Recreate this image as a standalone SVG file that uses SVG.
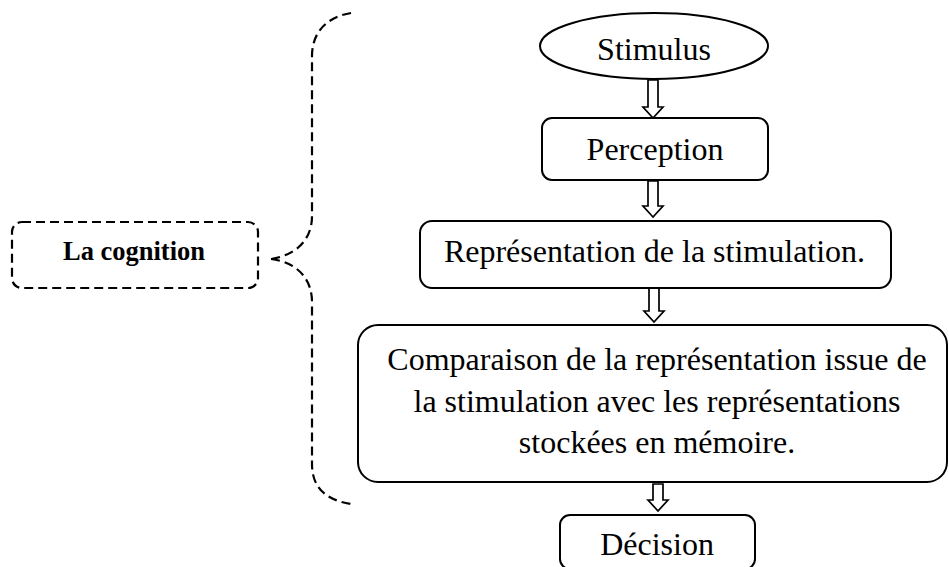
<svg xmlns="http://www.w3.org/2000/svg" width="949" height="567" viewBox="0 0 949 567">
  <style>
    .box { fill: #fff; stroke: #000; stroke-width: 2; }
    .dash { fill: none; stroke: #000; stroke-width: 2.2; stroke-dasharray: 9 5; }
    .arrow { fill: #fff; stroke: #000; stroke-width: 1.7; stroke-linejoin: miter; }
    .t { font-family: "Liberation Serif", "Times New Roman", serif; font-size: 32px; fill: #000; text-anchor: middle; }
    .tb { font-family: "Liberation Serif", "Times New Roman", serif; font-size: 26.5px; font-weight: bold; fill: #000; text-anchor: middle; }
  </style>
  <rect width="949" height="567" fill="#fff"/>

  <!-- connectors: hollow block arrows and the dashed brace -->
  <g id="connectors">
    <polygon class="arrow" points="648,80 658,80 658,107 663,107 653,118 643,107 648,107"/>
    <polygon class="arrow" points="648,181 658,181 658,206 663,206 653,217 643,206 648,206"/>
    <polygon class="arrow" points="649,288 659,288 659,311 664,311 654,322 644,311 649,311"/>
    <polygon class="arrow" points="653,484 663,484 663,500 668,500 658,511 648,500 653,500"/>
    <path class="dash" d="M351,13 C327,17 312,32 312,56 L312,216 C312,240 296,255 271,259"/>
    <path class="dash" d="M271,259 C296,262 312,278 312,302 L312,464 C312,488 326,500 351,504"/>
  </g>

  <g id="cognition">
    <rect class="dash" x="12" y="222" width="246" height="66" rx="10"/>
    <text class="tb" x="134" y="260">La cognition</text>
  </g>

  <g id="stimulus">
    <ellipse class="box" cx="654" cy="46" rx="114" ry="33" stroke-width="1.6"/>
    <text class="t" x="654" y="60">Stimulus</text>
  </g>

  <g id="perception">
    <rect class="box" x="542" y="118" width="226" height="62" rx="10"/>
    <text class="t" x="655" y="160">Perception</text>
  </g>

  <g id="representation">
    <rect class="box" x="420" y="221" width="471" height="67" rx="12"/>
    <text class="t" x="654.5" y="262">Représentation de la stimulation.</text>
  </g>

  <g id="comparaison">
    <rect class="box" x="358" y="325" width="589" height="157" rx="20"/>
    <text class="t" x="657" y="370">Comparaison de la représentation issue de</text>
    <text class="t" x="657" y="412">la stimulation avec les représentations</text>
    <text class="t" x="657" y="453">stockées en mémoire.</text>
  </g>

  <g id="decision">
    <rect class="box" x="560" y="515" width="195" height="54" rx="10"/>
    <text class="t" x="657" y="555">Décision</text>
  </g>
</svg>
